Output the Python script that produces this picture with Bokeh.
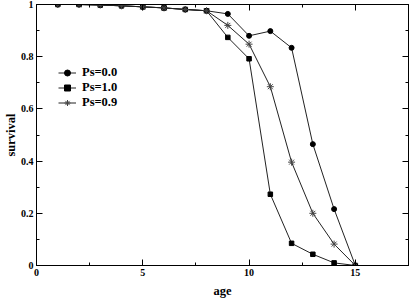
from bokeh.plotting import figure
from bokeh.models import LinearAxis, FixedTicker, CustomJSTickFormatter, Legend, LegendItem
from bokeh.embed import file_html
from bokeh.resources import INLINE

age = list(range(1, 16))
ps00 = [1.0, 1.0, 0.998, 0.995, 0.991, 0.987, 0.981, 0.976, 0.964, 0.880, 0.898, 0.834, 0.465, 0.216, 0.0]
ps10 = [1.0, 1.0, 0.998, 0.995, 0.991, 0.987, 0.981, 0.976, 0.874, 0.792, 0.273, 0.085, 0.043, 0.010, 0.0]
ps09 = [1.0, 1.0, 0.998, 0.995, 0.991, 0.987, 0.981, 0.976, 0.920, 0.848, 0.685, 0.396, 0.200, 0.082, 0.0]
labels = ["Ps=0.0", "Ps=1.0", "Ps=0.9"]
x_ticks = [0, 5, 10, 15]
x_minor = [2.5, 7.5, 12.5, 17.5]
y_ticks = [0, 0.2, 0.4, 0.6, 0.8, 1.0]
y_minor = [0.1, 0.3, 0.5, 0.7, 0.9]

FONT = "Liberation Serif"

p = figure(width=409, height=300, x_range=(0, 17.5), y_range=(0, 1),
           output_backend="svg", toolbar_location=None,
           min_border_left=36, min_border_right=1, min_border_top=4,
           min_border_bottom=35)
p.xgrid.visible = False
p.ygrid.visible = False
p.outline_line_color = "black"
p.outline_line_width = 1
p.background_fill_color = "white"
p.border_fill_color = "white"

fmt = CustomJSTickFormatter(code="return Number(tick.toFixed(2)).toString();")
blank = CustomJSTickFormatter(code="return '';")

def style_axis(ax, ticker, show_labels=True):
    ax.ticker = ticker
    ax.axis_line_color = "black"
    ax.major_tick_line_color = "black"
    ax.minor_tick_line_color = "black"
    ax.major_tick_in = 6
    ax.major_tick_out = 0
    ax.minor_tick_in = 3
    ax.minor_tick_out = 0
    ax.major_label_text_font = FONT
    ax.major_label_text_font_style = "bold"
    ax.major_label_text_font_size = "10px"
    ax.major_label_text_color = "black"
    if show_labels:
        ax.formatter = fmt
    else:
        ax.formatter = blank
        ax.major_label_text_font_size = "0px"
        ax.major_label_standoff = 0

xt = FixedTicker(ticks=x_ticks, minor_ticks=x_minor)
yt = FixedTicker(ticks=y_ticks, minor_ticks=y_minor)

xa = p.xaxis[0]
style_axis(xa, xt)
xa.major_label_standoff = 3
xa.axis_label = "age"
xa.axis_label_text_font = FONT
xa.axis_label_text_font_style = "bold"
xa.axis_label_text_font_size = "12.5px"
xa.axis_label_standoff = 5
xa.axis_label_text_color = "black"

ya = p.yaxis[0]
style_axis(ya, yt)
ya.major_label_standoff = 3
ya.axis_label = "survival"
ya.axis_label_text_font = FONT
ya.axis_label_text_font_style = "bold"
ya.axis_label_text_font_size = "12.5px"
ya.axis_label_standoff = 0
ya.axis_label_text_color = "black"

top = LinearAxis()
style_axis(top, FixedTicker(ticks=x_ticks, minor_ticks=x_minor), show_labels=False)
p.add_layout(top, "above")
right = LinearAxis()
style_axis(right, FixedTicker(ticks=y_ticks, minor_ticks=y_minor), show_labels=False)
p.add_layout(right, "right")

LC = "#222222"
l0 = p.line(age, ps00, line_color=LC, line_width=1)
s0 = p.scatter(age, ps00, marker="circle", size=5, fill_color="black", line_color="black")
l1 = p.line(age, ps10, line_color=LC, line_width=1)
s1 = p.scatter(age, ps10, marker="square", size=4.5, fill_color="black", line_color="black")
l2 = p.line(age, ps09, line_color=LC, line_width=1)
s2 = p.scatter(age, ps09, marker="asterisk", size=7, line_color="#444444", line_width=1)

legend = Legend(items=[LegendItem(label=labels[0], renderers=[l0, s0]),
                       LegendItem(label=labels[1], renderers=[l1, s1]),
                       LegendItem(label=labels[2], renderers=[l2, s2])],
                location=(22, 155))
legend.background_fill_alpha = 0
legend.border_line_alpha = 0
legend.glyph_width = 18
legend.glyph_height = 15
legend.label_height = 15
legend.label_standoff = 6
legend.spacing = 0
legend.padding = 0
legend.margin = 0
legend.label_text_font = FONT
legend.label_text_font_style = "bold"
legend.label_text_font_size = "12.5px"
legend.label_text_color = "black"
p.add_layout(legend, "center")

open("out.html", "w").write(file_html(p, INLINE))
